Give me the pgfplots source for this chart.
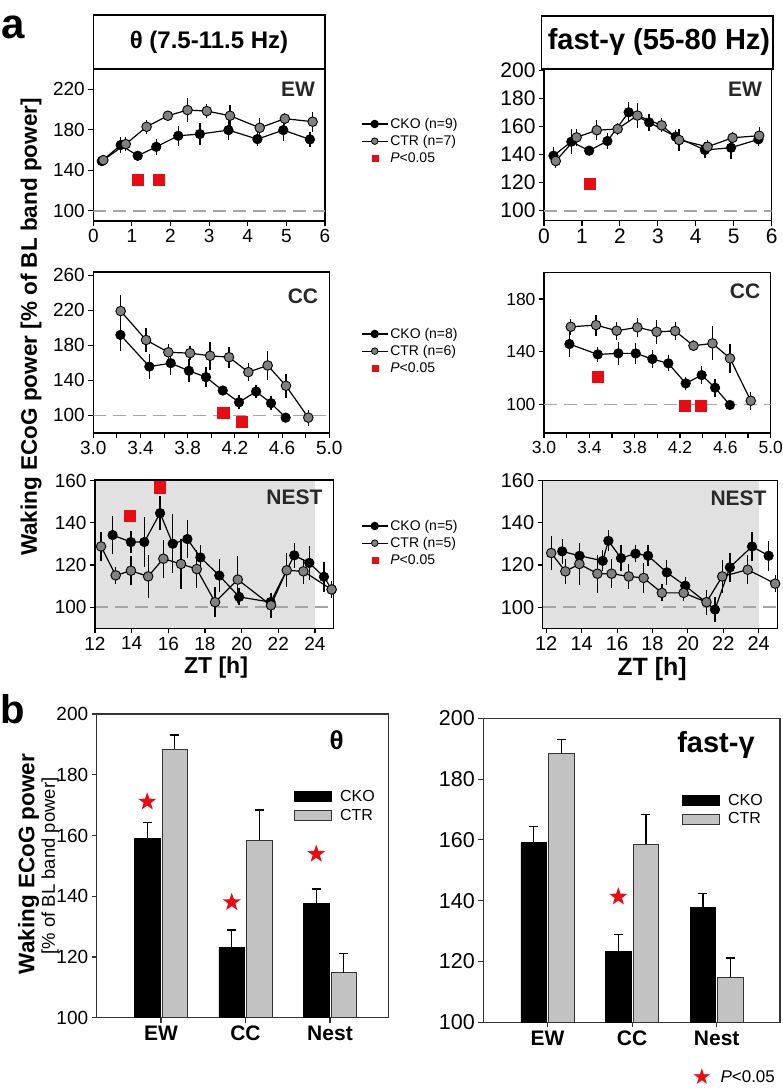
\documentclass[border=0pt]{standalone}
\usepackage{pgfplots}
\pgfplotsset{compat=1.18}
\usepackage{fontspec}
\setmainfont{Liberation Sans}
\newfontfamily\dejavu{DejaVu Sans}
\definecolor{sigred}{RGB}{232,12,18}
\definecolor{dashgray}{RGB}{165,165,165}
\definecolor{ctrgray}{RGB}{128,128,128}
\definecolor{bargray}{RGB}{194,194,194}
\definecolor{nestbg}{RGB}{225,225,225}
\definecolor{lblgray}{RGB}{40,40,40}

\pgfdeclareplotmark{fstar}{%
 \pgfpathmoveto{\pgfpointpolar{90}{\pgfplotmarksize}}%
 \pgfpathlineto{\pgfpointpolar{126}{0.4\pgfplotmarksize}}%
 \pgfpathlineto{\pgfpointpolar{162}{\pgfplotmarksize}}%
 \pgfpathlineto{\pgfpointpolar{198}{0.4\pgfplotmarksize}}%
 \pgfpathlineto{\pgfpointpolar{234}{\pgfplotmarksize}}%
 \pgfpathlineto{\pgfpointpolar{270}{0.4\pgfplotmarksize}}%
 \pgfpathlineto{\pgfpointpolar{306}{\pgfplotmarksize}}%
 \pgfpathlineto{\pgfpointpolar{342}{0.4\pgfplotmarksize}}%
 \pgfpathlineto{\pgfpointpolar{18}{\pgfplotmarksize}}%
 \pgfpathlineto{\pgfpointpolar{54}{0.4\pgfplotmarksize}}%
 \pgfpathclose\pgfusepathqfill}

\pgfplotsset{
 lc/.style={scale only axis, anchor=north west,
   axis line style={line width=1.2pt},
   every tick/.style={black, line width=1.1pt},
   tick align=outside, major tick length=5pt, minor tick length=5pt,
   xtick pos=bottom, ytick pos=left,
   /pgf/number format/assume math mode=true,
   tick label style={font=\fontsize{19}{22}\selectfont},
   legend cell align=left,
   legend style={draw=none, fill=none, font=\fontsize{14}{16}\selectfont,
     anchor=north west, row sep=1.5pt, inner sep=0pt}},
 dash100/.style={dashgray, line width=1.6pt, dash pattern=on 13pt off 7pt, forget plot},
 cko/.style={black, line width=1.2pt, mark=*, mark size=4.8pt,
   mark options={fill=black, draw=black, line width=0.6pt, solid},
   legend image code/.code={\draw[black,line width=1.2pt](0pt,0pt)--(26pt,0pt);\fill[black](13pt,0pt) circle (3.6pt);},
   error bars/y dir=both, error bars/y explicit, error bars/error mark=none,
   error bars/error bar style={line width=1.3pt, black}},
 ctr/.style={black, line width=1.2pt, mark=*, mark size=4.8pt,
   mark options={fill=ctrgray, draw=black, line width=0.9pt, solid},
   legend image code/.code={\draw[black,line width=1.2pt](0pt,0pt)--(26pt,0pt);\filldraw[fill=ctrgray,draw=black,line width=0.8pt](13pt,0pt) circle (3.3pt);},
   error bars/y dir=both, error bars/y explicit, error bars/error mark=none,
   error bars/error bar style={line width=1.3pt, black}},
 sig/.style={only marks, mark=square*, mark size=5.6pt, sigred,
   mark options={draw=sigred, fill=sigred},
   legend image code/.code={\fill[sigred](10pt,-3pt) rectangle (16pt,3pt);}},
 bc/.style={scale only axis, anchor=north west,
   axis line style={line width=1.1pt, black!80},
   every tick/.style={black!80, line width=1.1pt},
   tick align=outside, major tick length=5pt,
   xtick pos=bottom, ytick pos=left,
   /pgf/number format/assume math mode=true,
   yticklabel style={font=\fontsize{19}{22}\selectfont},
   xticklabel style={font=\bfseries\fontsize{21}{24}\selectfont},
   xtick={0,1,2}, xticklabels={EW,CC,Nest},
   ymin=100, ymax=200, ytick={100,120,...,200},
   legend cell align=left,
   legend style={draw=none, fill=none, font=\fontsize{16}{19}\selectfont,
     anchor=north west, row sep=2pt, inner sep=0pt,
     /tikz/every odd column/.append style={column sep=6pt}}},
 barcko/.style={ybar, bar width=25.5pt, bar shift=0pt, fill=black, draw=black, line width=0.8pt,
   legend image code/.code={\filldraw[fill=black,draw=black,line width=0.8pt](0pt,-5pt) rectangle (37pt,5pt);},
   error bars/y dir=plus, error bars/y explicit, error bars/error mark=-,
   error bars/error bar style={line width=1.3pt, black},
   error bars/error mark options={rotate=90, black, mark size=4.5pt, line width=1.3pt}},
 barctr/.style={ybar, bar width=25.5pt, bar shift=0pt, fill=bargray, draw=black!80, line width=0.8pt,
   legend image code/.code={\filldraw[fill=bargray,draw=black!80,line width=0.8pt](0pt,-5pt) rectangle (37pt,5pt);},
   error bars/y dir=plus, error bars/y explicit, error bars/error mark=-,
   error bars/error bar style={line width=1.3pt, black},
   error bars/error mark options={rotate=90, black, mark size=4.5pt, line width=1.3pt}},
 starp/.style={only marks, mark=fstar, mark size=9.5pt, sigred, forget plot},
}

\begin{document}
\begin{tikzpicture}[x=1pt,y=1pt]
\useasboundingbox (0,0) rectangle (783,-1088);

% ---------- panel labels and titles ----------
\node[font=\bfseries\fontsize{42}{46}\selectfont, anchor=center] at (13,-27) {a};
\node[font=\bfseries\fontsize{40}{44}\selectfont, anchor=center] at (13,-709) {b};
\draw[line width=1.2pt] (93.3,-15) rectangle (325,-69);
\node[font=\bfseries\fontsize{24}{28}\selectfont] at (209,-42) {θ (7.5-11.5 Hz)};
\draw[line width=1.2pt] (541.7,-16) rectangle (773,-69);
\node[font=\bfseries\fontsize{29}{33}\selectfont] at (659,-42) {fast-γ (55-80 Hz)};
\node[font=\bfseries\fontsize{22.5}{26}\selectfont, rotate=90] at (31,-327) {Waking ECoG power [\% of BL band power]};

% ---------- theta EW ----------
\begin{axis}[lc, at={(93.3pt,-69pt)}, width=231.7pt, height=152pt,
  xmin=0, xmax=6, ymin=90, ymax=240, xtick={0,1,2,3,4,5,6}, ytick={100,140,180,220},
  legend style={at={(1.155,0.691)}}]
\addplot[dash100] coordinates {(0,100) (6,100)};
\addplot[cko] table[x=x,y=y,y error=e] {
x y e
0.22 149.1 5
0.71 165.0 8
1.15 154.4 5
1.63 163.2 8
2.20 174.1 10
2.76 175.8 11
3.50 179.7 10
4.25 170.8 7
4.92 179.7 11
5.61 170.5 7
};
\addlegendentry{CKO (n=9)}
\addplot[ctr] table[x=x,y=y,y error=e] {
x y e
0.26 150.1 4
0.84 165.9 7
1.38 183.0 7
1.93 193.9 4
2.44 199.5 12
2.94 198.5 7
3.54 193.9 11
4.31 182.0 10
4.96 191.0 6
5.68 188.0 10
};
\addlegendentry{CTR (n=7)}
\addplot[sig] coordinates {(1.14,131) (1.70,131)};
\addlegendentry{\textit{P}<0.05}
\end{axis}

% ---------- fast-gamma EW ----------
\begin{axis}[lc, at={(544pt,-69pt)}, width=227.7pt, height=151.7pt,
  xmin=0, xmax=6, ymin=92.9, ymax=201.2, xtick={0,1,2,3,4,5,6}, ytick={100,120,...,200},
  tick label style={font=\fontsize{21}{24}\selectfont}]
\addplot[dash100] coordinates {(0,100) (6,100)};
\addplot[cko] table[x=x,y=y,y error=e] {
x y e
0.25 139.3 6
0.72 149.3 9
1.19 142.9 3
1.67 149.8 6
2.23 170.3 7
2.77 163.1 6
3.47 152.9 5
4.24 143.4 6
4.93 145.0 8
5.65 151.0 5
};
\addplot[ctr] table[x=x,y=y,y error=e] {
x y e
0.31 135.5 5
0.86 152.4 6
1.39 157.5 7
1.94 158.4 4
2.46 168.0 9
3.10 161.0 5
3.56 150.5 8
4.31 145.7 5
4.97 152.1 4
5.67 153.6 6
};
\addplot[sig] coordinates {(1.21,119.6)};
\end{axis}

% ---------- theta CC ----------
\begin{axis}[lc, at={(93.3pt,-272pt)}, width=236pt, height=161pt,
  xmin=3, xmax=5, ymin=80, ymax=263.5, xtick={3.0,3.4,...,5.0}, minor xtick={3.2,3.6,...,4.8},
  ytick={100,140,180,220,260},
  xticklabel style={/pgf/number format/.cd, fixed, fixed zerofill, precision=1},
  legend style={at={(1.134,0.665)}}]
\addplot[dash100] coordinates {(3,100) (5,100)};
\addplot[cko] table[x=x,y=y,y error=e] {
x y e
3.230 191.8 18
3.475 155.7 14
3.656 159.6 13
3.810 150.9 13
3.955 143.7 11
4.097 128.4 5
4.235 115.0 8
4.380 127.3 7
4.506 114.0 8
4.630 97.5 4
};
\addlegendentry{CKO (n=8)}
\addplot[ctr] table[x=x,y=y,y error=e] {
x y e
3.232 219.0 18
3.447 186.0 14
3.636 172.0 10
3.820 171.0 8
3.990 168.0 16
4.150 166.4 12
4.314 149.4 10
4.478 157.0 17
4.633 133.8 14
4.822 97.5 9
};
\addlegendentry{CTR (n=6)}
\addplot[sig] coordinates {(4.10,102.7) (4.257,93)};
\addlegendentry{\textit{P}<0.05}
\end{axis}

% ---------- fast-gamma CC ----------
\begin{axis}[lc, at={(544pt,-272.3pt)}, width=226.7pt, height=160.7pt,
  xmin=3, xmax=5, ymin=78.2, ymax=200.3, xtick={3.0,3.4,...,5.0}, minor xtick={3.2,3.6,...,4.8},
  ytick={100,140,180},
  xticklabel style={/pgf/number format/.cd, fixed, fixed zerofill, precision=1},
  tick label style={font=\fontsize{17.5}{20}\selectfont}]
\addplot[dash100] coordinates {(3,100) (5,100)};
\addplot[cko] table[x=x,y=y,y error=e] {
x y e
3.224 145.8 10
3.474 137.9 6
3.656 138.7 9
3.809 138.7 8
3.956 134.4 7
4.097 131.1 6
4.250 115.9 5
4.391 122.2 7
4.509 112.6 7
4.640 99.5 2
};
\addplot[ctr] table[x=x,y=y,y error=e] {
x y e
3.236 158.9 6
3.459 160.2 8
3.641 155.9 7
3.824 158.5 7
3.994 155.1 9
4.157 155.7 7
4.319 144.5 4
4.486 146.3 13
4.641 134.9 11
4.824 102.7 7
};
\addplot[sig] coordinates {(3.477,121) (4.24,98.7) (4.38,98.7)};
\end{axis}

% ---------- theta NEST ----------
\begin{axis}[lc, axis on top, at={(95pt,-480pt)}, width=238.3pt, height=148.3pt,
  xmin=12, xmax=25, ymin=90, ymax=160.3, xtick={12,14,...,24}, ytick={100,120,140,160},
  legend style={at={(1.116,0.744)}}]
\addplot[fill=nestbg, draw=none, forget plot] coordinates {(12,90) (24,90) (24,160.3) (12,160.3)} -- cycle;
\addplot[dash100] coordinates {(12,100) (25,100)};
\addplot[cko] table[x=x,y=y,y error=e] {
x y e
12.96 134.2 9
13.96 130.9 5
14.69 130.9 12
15.55 144.6 8
16.24 130.1 14
17.04 132.3 9
17.75 123.6 6
18.78 115.0 8
19.86 104.9 4
21.58 102.4 4
22.87 124.6 6
23.69 121.0 8
24.49 114.4 7
24.91 108.4 4
};
\addlegendentry{CKO (n=5)}
\addplot[ctr] table[x=x,y=y,y error=e] {
x y e
12.33 128.8 7
13.13 115.1 4
13.96 117.3 7
14.90 114.6 10
15.73 123.0 9
16.69 120.5 12
17.55 118.1 9
18.55 102.4 7
19.79 113.1 11
21.60 100.9 6
22.46 117.5 8
23.37 117.0 6
24.91 108.4 4
};
\addlegendentry{CTR (n=5)}
\addplot[sig] coordinates {(13.91,143.5) (15.51,156.9)};
\addlegendentry{\textit{P}<0.05}
\end{axis}

% ---------- fast-gamma NEST ----------
\begin{axis}[lc, axis on top, at={(542.7pt,-480.7pt)}, width=234.6pt, height=147.6pt,
  xmin=11.8, xmax=25.05, ymin=90, ymax=160, xtick={12,14,...,24}, ytick={100,120,140,160},
  tick label style={font=\fontsize{20}{23}\selectfont}]
\addplot[fill=nestbg, draw=none, forget plot] coordinates {(11.8,90) (24,90) (24,160) (11.8,160)} -- cycle;
\addplot[dash100] coordinates {(11.8,100) (25.05,100)};
\addplot[cko] table[x=x,y=y,y error=e] {
x y e
12.90 126.5 6
13.88 124.4 4
15.19 122.0 5
15.51 131.5 5
16.22 123.3 6
17.04 125.4 4
17.75 124.4 5
18.81 116.5 6
19.85 110.2 4
21.53 98.9 6
22.37 118.9 7
23.62 128.8 7
24.56 124.4 7
};
\addplot[ctr] table[x=x,y=y,y error=e] {
x y e
12.28 125.7 8
13.08 117.0 6
13.87 120.5 10
14.89 115.9 9
15.69 115.9 7
16.66 114.6 6
17.50 113.9 7
18.53 106.8 4
19.76 106.8 4
21.05 102.4 6
21.94 114.6 8
23.38 117.8 7
24.93 111.2 4
};
\end{axis}

% ---------- region names ----------
\node[font=\bfseries\fontsize{21}{24}\selectfont, text=lblgray] at (298,-89) {EW};
\node[font=\bfseries\fontsize{21}{24}\selectfont, text=lblgray] at (745,-89) {EW};
\node[font=\bfseries\fontsize{21}{24}\selectfont, text=lblgray] at (303,-296) {CC};
\node[font=\bfseries\fontsize{21}{24}\selectfont, text=lblgray] at (745,-291) {CC};
\node[font=\bfseries\fontsize{21}{24}\selectfont, text=lblgray] at (294.5,-497.5) {NEST};
\node[font=\bfseries\fontsize{21}{24}\selectfont, text=lblgray] at (738.5,-498) {NEST};
\node[font=\bfseries\fontsize{23}{26}\selectfont] at (216,-668) {ZT [h]};
\node[font=\bfseries\fontsize{25}{28}\selectfont] at (652,-669) {ZT [h]};

% ---------- b: theta bars ----------
\begin{axis}[bc, at={(96.7pt,-714pt)}, width=291.6pt, height=303.7pt,
  xmin=-0.761, xmax=2.69,
  legend style={at={(0.677,0.756)}}]
\addplot[barcko] coordinates {(-0.163,159.1) +- (0,5.2) (0.837,123.2) +- (0,5.7) (1.837,137.7) +- (0,4.7)};
\addlegendentry{CKO}
\addplot[barctr] coordinates {(0.163,188.4) +- (0,4.7) (1.163,158.5) +- (0,9.9) (2.163,114.8) +- (0,6.4)};
\addlegendentry{CTR}
\addplot[starp] coordinates {(-0.163,171.1) (0.837,138.0) (1.837,153.9)};
\end{axis}
\node[font=\bfseries\fontsize{26}{30}\selectfont] at (336.7,-740) {θ};
\node[font=\bfseries\fontsize{22.5}{26}\selectfont, rotate=90] at (28.5,-864) {Waking ECoG power};
\node[font=\fontsize{18.5}{22}\selectfont, rotate=90] at (50,-866) {[\% of BL band power]};

% ---------- b: fast-gamma bars ----------
\begin{axis}[bc, at={(483.3pt,-718.3pt)}, width=296.7pt, height=304pt,
  xmin=-0.759, xmax=2.748,
  yticklabel style={font=\fontsize{21.5}{24}\selectfont},
  legend style={at={(0.67,0.758)}}]
\addplot[barcko] coordinates {(-0.163,159.1) +- (0,5.2) (0.837,123.2) +- (0,5.7) (1.837,137.7) +- (0,4.7)};
\addlegendentry{CKO}
\addplot[barctr] coordinates {(0.163,188.4) +- (0,4.7) (1.163,158.5) +- (0,9.9) (2.163,114.8) +- (0,6.4)};
\addlegendentry{CTR}
\addplot[starp] coordinates {(0.837,141.3)};
\end{axis}
\node[font=\bfseries\fontsize{29}{33}\selectfont] at (716,-745) {fast-γ};
\node[font=\dejavu\fontsize{22}{25}\selectfont, text=sigred] at (702,-1077) {★};
\node[font=\fontsize{17}{20}\selectfont, anchor=west] at (717,-1077) {\textit{P}<0.05};
\end{tikzpicture}
\end{document}
